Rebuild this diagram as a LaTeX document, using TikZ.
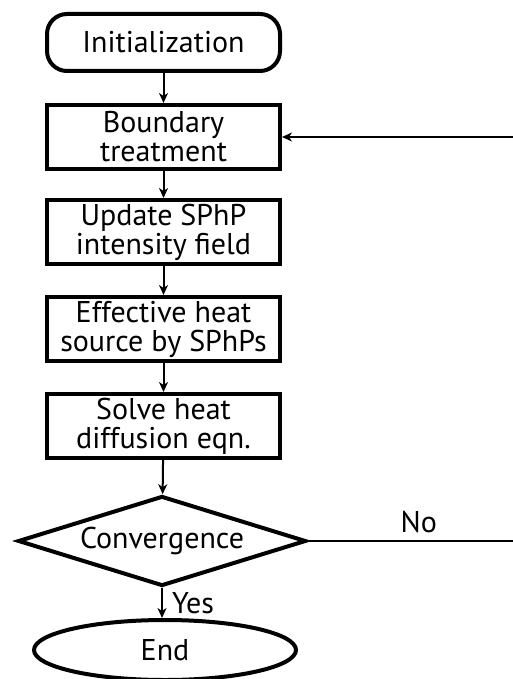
\documentclass[tikz,border=0pt]{standalone}
\usepackage{fontspec}
\setmainfont{PT Sans}
\usetikzlibrary{shapes.geometric,arrows.meta}
\begin{document}
\begin{tikzpicture}[x=1pt,y=-1pt,
  font=\fontsize{30pt}{29pt}\selectfont,
  startbox/.style={draw,line width=4pt,rounded corners=20pt,minimum width=233pt,minimum height=57pt,inner sep=0pt},
  procbox/.style={draw,line width=4pt,minimum width=233pt,minimum height=64pt,inner sep=0pt,align=center},
  decbox/.style={draw,diamond,aspect=3.2,line width=4pt,minimum width=288pt,minimum height=90pt,inner sep=0pt},
  endbox/.style={draw,ellipse,line width=4pt,minimum width=262pt,minimum height=60pt,inner sep=0pt},
  flow/.style={line width=2pt,-{Stealth[length=10pt,width=9pt,inset=3pt]}}]
\useasboundingbox (0,0) rectangle (513,679);
\node[startbox] (init) at (163.5,42.5) {Initialization};
\node[procbox] (bnd) at (163.5,137) {Boundary\\treatment};
\node[procbox] (upd) at (163.5,232) {Update SPhP\\intensity field};
\node[procbox] (src) at (163.5,329) {Effective heat\\source by SPhPs};
\node[procbox] (sol) at (163.5,426) {Solve heat\\diffusion eqn.};
\node[decbox] (conv) at (162,541) {Convergence};
\node[endbox] (stop) at (165,650) {End};
\coordinate (noend) at (513,541);
\coordinate (loopin) at (513,137);
% main line
\draw[flow] (init) -- (bnd);
\draw[flow] (bnd) -- (upd);
\draw[flow] (upd) -- (src);
\draw[flow] (src) -- (sol);
\draw[flow] (sol) -- (conv);
\draw[flow] (conv.south) -- node[right,inner sep=1pt,xshift=8pt] {Yes} (conv.south |- stop.north);
% back to boundary
\draw[line width=2pt] (conv.east) -- node[above,pos=0.54,inner sep=7pt] {No} (noend);
\draw[flow] (loopin) -- (bnd.east);
\end{tikzpicture}
\end{document}
